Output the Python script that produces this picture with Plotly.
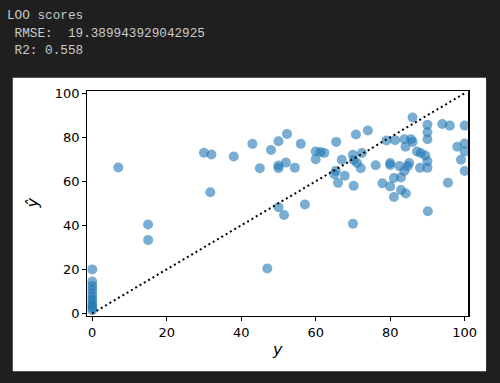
import plotly.graph_objects as go

# true values (y) and LOO predictions (y_hat)
y_true = [0, 0, 0, 0, 0, 0, 0, 0, 0, 0, 0,
          15, 15, 7, 30, 32, 38, 43, 48, 50, 52.3, 56,
          45, 50, 50, 52, 54.4, 60, 60, 61.3, 62.3,
          65.5, 67, 65.4, 65, 66, 31.7, 50, 51.5, 57.1, 47, 70,
          86, 90, 90, 90, 94, 96, 100,
          100, 98, 100, 99, 100,
          70.8, 74, 79, 81.3, 83.8, 85.6, 86, 84.1, 87.2, 88.2, 89.4, 90, 90, 88,
          85.1, 84.7, 82.5, 80, 80, 76.1, 70, 72.4, 70.2, 71.1, 72.1, 67.8,
          70.2, 77.9, 80, 81, 82.9, 83.8, 82.9, 84.2, 81, 95.5, 90.1]
y_pred = [20, 14.5, 12.5, 11, 9, 7.5, 6, 4.5, 3.5, 2.5, 1.5,
          40.4, 33.3, 66.3, 73, 72.2, 71.3, 77, 74.2, 78.2, 81.5, 77,
          65.9, 67.2, 66, 68.5, 66.2, 73.5, 70, 73.3, 72.9,
          77.9, 69.8, 64.8, 63.2, 59.3, 55, 48.2, 44.7, 49.5, 20.4, 40.7,
          89, 85.7, 82.3, 79.1, 86, 85.3, 85.3,
          77.2, 75.7, 73.5, 69.8, 64.7,
          81.3, 83.1, 78.5, 78.7, 79.1, 79.1, 77.9, 75.7, 73.5, 72.8, 71.7, 69.1, 66.1, 66.1,
          68.3, 66.9, 66.9, 68.3, 67.4, 67.3, 72.1, 72.8, 69.6, 68.3, 65.9, 62.5,
          58, 59.1, 57.7, 61.5, 61.7, 64.7, 56, 54.5, 52.9, 59.4, 46.4]

diag = [0, 100]
ticks = [0, 20, 40, 60, 80, 100]
header_lines = ["LOO scores", " RMSE:  19.389943929042925", " R2: 0.558"]

W, H = 500, 383
fig = go.Figure()
fig.add_trace(go.Scatter(
    x=y_true, y=y_pred, mode="markers",
    marker=dict(size=10, color="rgba(31,119,180,0.6)", line=dict(width=0)),
    showlegend=False, hoverinfo="skip"))
fig.add_trace(go.Scatter(
    x=diag, y=diag, mode="lines",
    line=dict(color="black", width=2, dash="2px,3px"),
    showlegend=False, hoverinfo="skip"))

axis_common = dict(showline=True, mirror=True, linecolor="black", linewidth=1.2,
                   ticks="outside", ticklen=4, tickwidth=1, tickcolor="black",
                   showgrid=False, zeroline=False, tickvals=ticks,
                   tickfont=dict(family="DejaVu Sans", size=13, color="black"))

fig.update_layout(
    width=W, height=H,
    margin=dict(l=0, r=0, t=0, b=0),
    paper_bgcolor="#1f1f1f",
    plot_bgcolor="white",
    hovermode=False,
    xaxis=dict(domain=[89 / W, 477 / W], range=[-1.3, 101], **axis_common),
    yaxis=dict(domain=[1 - 319 / H, 1 - 88 / H], range=[-1.1, 100.8], **axis_common),
    shapes=[dict(type="rect", xref="paper", yref="paper", layer="below",
                 x0=13 / W, x1=495 / W, y0=1 - 376 / H, y1=1 - 74 / H,
                 fillcolor="white", line=dict(width=0))],
)

ann = []
for i, t in enumerate(header_lines):
    ann.append(dict(text=t.replace(" ", "&nbsp;"), xref="paper", yref="paper",
                    x=5 / W, y=1 - (9.5 + 18.3 * i) / H, xanchor="left", yanchor="middle",
                    showarrow=False,
                    font=dict(family="Liberation Mono", size=12.7, color="#cccccc")))
ann.append(dict(text="<i>y</i>", xref="paper", yref="paper",
                x=283 / W, y=1 - 354 / H, xanchor="center", yanchor="middle",
                showarrow=False, font=dict(family="DejaVu Sans", size=16, color="black")))
ann.append(dict(text="<i>ŷ</i>", xref="paper", yref="paper", textangle=-90,
                x=33 / W, y=1 - 203 / H, xanchor="center", yanchor="middle",
                showarrow=False, font=dict(family="DejaVu Sans", size=16, color="black")))
fig.update_layout(annotations=ann)

post = (
    "document.documentElement.style.margin='0px';"
    "document.documentElement.style.padding='0px';"
    "document.documentElement.style.overflow='hidden';"
    "document.body.style.margin='0px';"
    "document.body.style.padding='0px';"
    "document.body.style.overflow='hidden';"
    "document.body.style.background='#1f1f1f';"
    "var gd=document.getElementById('{plot_id}');"
    "gd.style.position='fixed';gd.style.left='0px';gd.style.top='0px';"
)

fig.write_html("out.html", config={"displayModeBar": False, "staticPlot": True},
               post_script=post)
